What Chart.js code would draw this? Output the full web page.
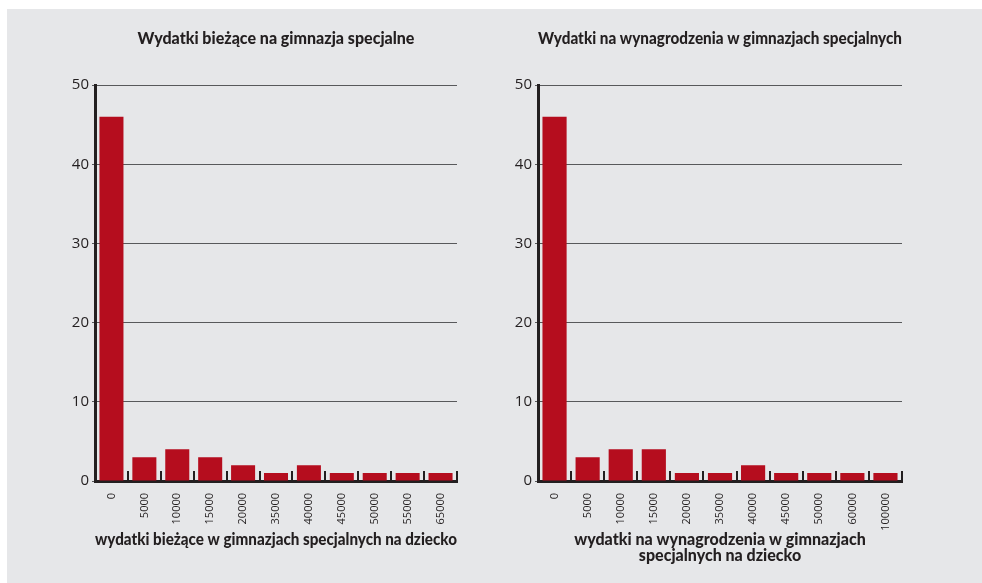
<!DOCTYPE html>
<html>
<head>
<meta charset="utf-8">
<script src="https://cdn.jsdelivr.net/npm/chart.js@4"></script>
<style>
  body { margin: 0; background: #fff; width: 982px; height: 583px; overflow: hidden; position: relative; }
  #panel { position: absolute; left: 7px; top: 9px; width: 975px; height: 574px; background: #e6e7e9; }
  #wrap1 { position: absolute; left: 0; top: 0; width: 484px; height: 574px; }
  #wrap2 { position: absolute; left: 484px; top: 0; width: 491px; height: 574px; }
</style>
</head>
<body>
<div id="panel">
  <div id="wrap1"><canvas id="chart1"></canvas></div>
  <div id="wrap2"><canvas id="chart2"></canvas></div>
</div>
<script>
const labels1 = ['0', '5000', '10000', '15000', '20000', '35000', '40000', '45000', '50000', '55000', '65000'];
const values1 = [46, 3, 4, 3, 2, 1, 2, 1, 1, 1, 1];
const labels2 = ['0', '5000', '10000', '15000', '20000', '35000', '40000', '45000', '50000', '60000', '100000'];
const values2 = [46, 3, 4, 4, 1, 1, 2, 1, 1, 1, 1];
const yTicks = [0, 10, 20, 30, 40, 50];

const title1 = 'Wydatki bieżące na gimnazja specjalne';
const title2 = 'Wydatki na wynagrodzenia w gimnazjach specjalnych';
const xTitle1 = 'wydatki bieżące w gimnazjach specjalnych na dziecko';
const xTitle2 = ['wydatki na wynagrodzenia w gimnazjach', 'specjalnych na dziecko'];

const dark = '#231f20';
const red = '#b50d1e';

function makeConfig(labels, values, title, xTitle, yWidth, padRight, xTitlePad) {
    return {
        type: 'bar',
        data: {
            labels: labels,
            datasets: [{
                data: values,
                backgroundColor: red,
                borderWidth: 0,
                categoryPercentage: 1,
                barPercentage: 0.73,
            }]
        },
        options: {
            responsive: false,
            animation: false,
            layout: { padding: { left: 0, right: padRight, top: 0, bottom: 0 } },
            plugins: {
                legend: { display: false },
                tooltip: { enabled: false },
                title: {
                    display: true,
                    text: title,
                    fullSize: false,
                    color: dark,
                    font: { family: 'Lato', size: 16, weight: 900, lineHeight: 1.2 },
                    padding: { top: 20, bottom: 37 },
                },
            },
            scales: {
                x: {
                    grid: {
                        offset: true,
                        drawOnChartArea: false,
                        tickLength: -10,
                        color: dark,
                        lineWidth: 2,
                    },
                    border: { display: true, color: dark, width: 3 },
                    ticks: {
                        color: dark,
                        font: { family: 'Open Sans', size: 11 },
                        minRotation: 90,
                        maxRotation: 90,
                        autoSkip: false,
                        padding: 22,
                    },
                    title: {
                        display: true,
                        text: xTitle,
                        color: dark,
                        font: { family: 'Lato', size: 16, weight: 900, lineHeight: 1.0 },
                        padding: { top: 0, bottom: xTitlePad },
                    },
                    afterFit: (scale) => { scale.height = 102; },
                },
                y: {
                    min: yTicks[0],
                    max: yTicks[yTicks.length - 1],
                    ticks: {
                        stepSize: 10,
                        color: dark,
                        font: { family: 'Open Sans', size: 15 },
                        padding: 3,
                    },
                    grid: { color: '#58595b', lineWidth: 1, tickLength: 3 },
                    border: { display: true, color: dark, width: 3 },
                    afterFit: (scale) => { scale.width = yWidth; },
                }
            }
        }
    };
}

function setup(id, w) {
    const c = document.getElementById(id);
    c.width = w;
    c.height = 574;
    c.style.width = w + 'px';
    c.style.height = '574px';
    return c;
}

const chart1 = new Chart(setup('chart1', 484), makeConfig(labels1, values1, title1, xTitle1, 88, 34, 35));
const chart2 = new Chart(setup('chart2', 491), makeConfig(labels2, values2, title2, xTitle2, 47, 80, 19));
</script>
</body>
</html>
